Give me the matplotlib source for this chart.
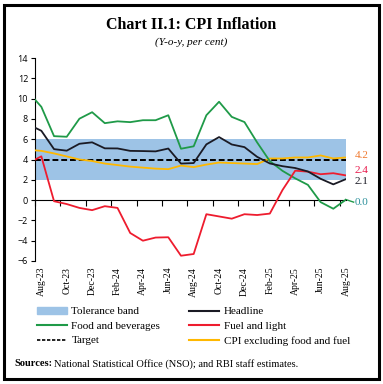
import numpy as np
import matplotlib
matplotlib.use("Agg")
import matplotlib.pyplot as plt
from matplotlib.patches import Patch
from matplotlib.lines import Line2D

# months Jul-23 .. Aug-25 (Jul-23 only feeds the clipped start of the lines)
months = ['Jul-23', 'Aug-23', 'Sep-23', 'Oct-23', 'Nov-23', 'Dec-23', 'Jan-24', 'Feb-24', 'Mar-24',
          'Apr-24', 'May-24', 'Jun-24', 'Jul-24', 'Aug-24', 'Sep-24', 'Oct-24', 'Nov-24', 'Dec-24',
          'Jan-25', 'Feb-25', 'Mar-25', 'Apr-25', 'May-25', 'Jun-25', 'Jul-25', 'Aug-25']
headline = [7.44, 6.83, 5.02, 4.87, 5.55, 5.69, 5.10, 5.09, 4.85, 4.83, 4.80, 5.08, 3.60, 3.65,
            5.49, 6.21, 5.48, 5.22, 4.26, 3.61, 3.34, 3.16, 2.82, 2.10, 1.55, 2.07]
food = [10.6, 9.19, 6.30, 6.24, 8.02, 8.66, 7.58, 7.76, 7.68, 7.87, 7.87, 8.36, 5.06, 5.30,
        8.36, 9.69, 8.20, 7.69, 5.68, 3.84, 2.88, 2.14, 1.50, -0.20, -0.85, 0.05]
fuel = [3.67, 4.31, -0.11, -0.39, -0.77, -0.99, -0.60, -0.77, -3.24, -4.00, -3.69, -3.66, -5.48, -5.31,
        -1.39, -1.61, -1.83, -1.39, -1.47, -1.33, 1.00, 2.90, 2.80, 2.55, 2.65, 2.43]
core = [4.95, 4.85, 4.6, 4.3, 4.0, 3.85, 3.6, 3.45, 3.3, 3.2, 3.1, 3.05, 3.4, 3.25,
        3.5, 3.7, 3.65, 3.6, 3.55, 4.1, 4.1, 4.2, 4.2, 4.4, 4.1, 4.2]
target = 4
band = (2, 6)
end_labels = ['4.2', '2.4', '2.1', '0.0']

plt.rcParams['font.family'] = ['Liberation Serif', 'DejaVu Serif']

x = np.arange(len(months)) - 1  # Aug-23 at 0

fig = plt.figure(figsize=(3.83, 3.84), dpi=100)
ax = fig.add_axes([35/383, 1-261/384, (346-35)/383, (261-58)/384])

c_blue = '#9dc3e6'
c_green = '#1f9a48'
c_red = '#ee1c2e'
c_yel = '#ffb800'
c_blk = '#1a1a24'

ax.fill_between([-0.5, 24], band[0], band[1], color=c_blue, lw=0, zorder=1)
ax.plot([-0.5, 24], [target, target], color='black', ls=(0, (3, 1.5)), lw=1.4, zorder=3)
ax.plot(x, core, color=c_yel, lw=1.3, zorder=4)
ax.plot(x, food, color=c_green, lw=1.3, zorder=4)
ax.plot(x, fuel, color=c_red, lw=1.3, zorder=4)
ax.plot(x, headline, color=c_blk, lw=1.3, zorder=5)

ax.set_xlim(-0.5, 24)
ax.set_ylim(-6, 14)
ax.set_yticks(range(-6, 15, 2))
for s in ['top', 'right']:
    ax.spines[s].set_visible(False)
ax.spines['bottom'].set_position(('data', 0))
ax.spines['left'].set_linewidth(0.8)
ax.spines['bottom'].set_linewidth(0.8)
ax.tick_params(axis='y', direction='out', length=3, width=0.8, pad=2)
for t in ax.get_yticklabels():
    t.set_family(['Open Sans', 'DejaVu Sans'])
    t.set_fontsize(6.5)

ax.set_xticks(x[1::2])
ax.set_xticklabels(months[1::2], rotation=90, fontsize=7, va='top')
ax.tick_params(axis='x', which='major', length=0, pad=48)
ax.set_xticks(np.arange(-0.5, 24, 2), minor=True)
ax.tick_params(axis='x', which='minor', direction='out', length=4, width=0.8)

# end labels
lab_y = [4.4, 2.95, 1.8, -0.2]
lab_c = ['#f07a30', '#e8174a', c_blk, '#2a8f9a']
for txt, yy, cc in zip(end_labels, lab_y, lab_c):
    ax.text(24.7, yy, txt, color=cc, fontsize=8, va='center', ha='left', clip_on=False)
ax.plot([24, 24.6], [food[-1], -0.2], color=c_green, lw=1, clip_on=False)

fig.text(0.5, 1-25/384, 'Chart II.1: CPI Inflation', ha='center', va='center',
         fontsize=11.5, fontweight='bold')
fig.text(0.5, 1-42/384, '(Y-o-y, per cent)', ha='center', va='center',
         fontsize=8, style='italic')

# column-wise order: left column then right column
handles = [Patch(color=c_blue), Line2D([], [], color=c_green, lw=1.5),
           Line2D([], [], color='black', lw=1.2, ls=(0, (2, 1))),
           Line2D([], [], color=c_blk, lw=1.5), Line2D([], [], color=c_red, lw=1.5),
           Line2D([], [], color=c_yel, lw=1.5)]
labels = ['Tolerance band', 'Food and beverages', 'Target',
          'Headline', 'Fuel and light', 'CPI excluding food and fuel']
fig.legend(handles, labels, ncol=2, loc='upper left', bbox_to_anchor=(37/383, 1-307/384),
           frameon=False, fontsize=8, handlelength=2.7, handleheight=0.6, handletextpad=0.4,
           columnspacing=2.6, labelspacing=0.45, borderaxespad=0, borderpad=0)

fig.text(14/383, 1-364/384, 'Sources:', fontsize=7.5, va='center', ha='left', fontweight='bold')
fig.text(54/383, 1-364/384, 'National Statistical Office (NSO); and RBI staff estimates.',
         fontsize=7.5, va='center', ha='left')

fig.patches.append(plt.Rectangle((4/383, 5/384), 375/383, 374/384, transform=fig.transFigure,
                                 fill=False, lw=2.2, ec='black'))

fig.savefig('out.png', dpi=100)
